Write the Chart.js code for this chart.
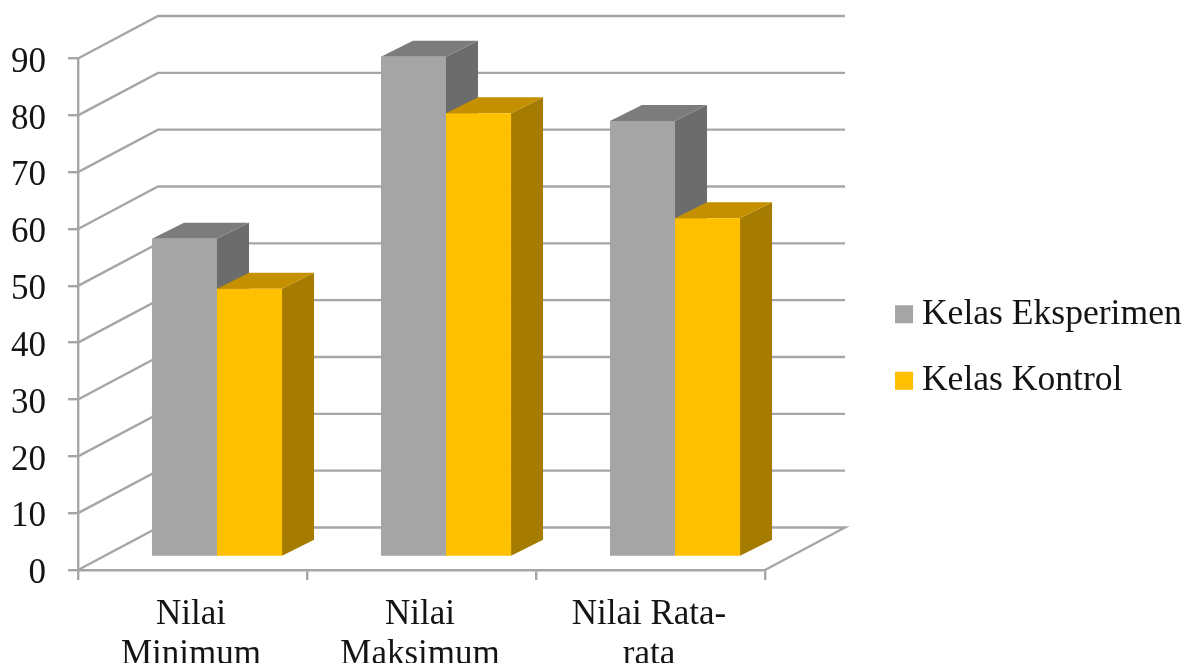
<!DOCTYPE html>
<html>
<head>
<meta charset="utf-8">
<title>Nilai Kelas Eksperimen dan Kelas Kontrol</title>
<script src="https://cdn.jsdelivr.net/npm/chart.js@4/dist/chart.umd.js"></script>
<style>
  html, body { margin: 0; padding: 0; background: #fff; }
  canvas { display: block; }
</style>
</head>
<body>
<canvas id="chart" width="1183" height="663"></canvas>
<script>
// Score categories and the two class series
const categories = [['Nilai', 'Minimum'], ['Nilai', 'Maksimum'], ['Nilai Rata-', 'rata']];
const kelasEksperimen = [56, 88, 76.7];
const kelasKontrol = [47.2, 78.1, 59.6];

const FONT = '"Liberation Serif", "Times New Roman", serif';
const LINE = '#a6a6a6';
const INK = '#141414';

// Offset of the back wall relative to the front plane of the box
const WALL = { dx: 80, dy: -42.5 };
// Offset of the bars from the front plane, and their extrusion depth
const BAR_SHIFT = { dx: 24.5, dy: -13 };
const BAR_DEPTH = { dx: 32, dy: -16 };

function poly(ctx, pts, fill) {
  ctx.beginPath();
  pts.forEach((p, i) => (i ? ctx.lineTo(p[0], p[1]) : ctx.moveTo(p[0], p[1])));
  ctx.closePath();
  ctx.fillStyle = fill;
  ctx.fill();
}

// Side wall, back wall and floor drawn from the value scale, then the bars'
// side and top faces; the library paints the front faces afterwards
const box3d = {
  id: 'box3d',
  beforeDatasetsDraw(chart) {
    const { ctx, chartArea: a, scales: { y } } = chart;
    ctx.save();
    ctx.strokeStyle = LINE;
    ctx.lineWidth = 2.4;
    ctx.lineJoin = 'miter';
    y.ticks.forEach(t => {
      const py = y.getPixelForValue(t.value);
      ctx.beginPath();
      ctx.moveTo(a.left, py);
      ctx.lineTo(a.left + WALL.dx, py + WALL.dy);
      ctx.lineTo(a.right + WALL.dx, py + WALL.dy);
      if (t.value === 0) ctx.lineTo(a.right, py);
      ctx.stroke();
    });
    ctx.translate(BAR_SHIFT.dx, BAR_SHIFT.dy);
    chart.data.datasets.forEach((ds, i) => {
      chart.getDatasetMeta(i).data.forEach(bar => {
        const { x, y: top, base, width } = bar.getProps(['x', 'y', 'base', 'width'], true);
        const l = x - width / 2, r = x + width / 2;
        const d = BAR_DEPTH;
        poly(ctx, [[r, top], [r + d.dx, top + d.dy], [r + d.dx, base + d.dy], [r, base]], ds.sideColor);
        poly(ctx, [[l, top], [l + d.dx, top + d.dy], [r + d.dx, top + d.dy], [r, top]], ds.topColor);
      });
    });
    ctx.restore();
  },
  beforeDatasetDraw(chart) {
    chart.ctx.save();
    chart.ctx.translate(BAR_SHIFT.dx, BAR_SHIFT.dy);
  },
  afterDatasetDraw(chart) {
    chart.ctx.restore();
  }
};

// Seats the legend to the right of the plot, inside the space reserved for it
const legendSeat = {
  id: 'legendSeat',
  afterLayout(chart) {
    const lg = chart.legend;
    lg.left = 904 - lg.options.labels.padding;
    lg.right = 1183;
    lg.top = 265.5;
    lg.bottom = 663;
  }
};

new Chart(document.getElementById('chart'), {
  type: 'bar',
  data: {
    labels: categories,
    datasets: [
      { label: 'Kelas Eksperimen', data: kelasEksperimen, backgroundColor: '#a5a5a5',
        sideColor: '#6c6c6c', topColor: '#7c7c7c', clip: false },
      { label: 'Kelas Kontrol', data: kelasKontrol, backgroundColor: '#ffc000',
        sideColor: '#a67c00', topColor: '#c49000', clip: false }
    ]
  },
  plugins: [box3d, legendSeat],
  options: {
    responsive: false,
    animation: false,
    devicePixelRatio: 1,
    layout: { padding: { top: 58.5, left: 0, right: 163, bottom: 0 } },
    datasets: { bar: { categoryPercentage: 0.568, barPercentage: 1, borderWidth: 0 } },
    plugins: {
      title: { display: false },
      tooltip: { enabled: false },
      legend: {
        position: 'right',
        align: 'start',
        labels: {
          usePointStyle: true,
          pointStyle: 'rect',
          boxWidth: 0.1,
          boxHeight: 18,
          padding: 30.9,
          color: INK,
          font: { family: FONT, size: 35.6 },
          sort: (a, b) => a.datasetIndex - b.datasetIndex
        }
      }
    },
    scales: {
      x: {
        afterFit: s => { s.height = 93; },
        grid: { drawOnChartArea: false, drawTicks: true, tickLength: 10, color: LINE, lineWidth: 2.4 },
        border: { color: LINE, width: 2.4 },
        ticks: {
          color: INK,
          padding: 15,
          labelOffset: -1.5,
          maxRotation: 0,
          autoSkip: false,
          font: { family: FONT, size: 35, lineHeight: 1.143 }
        }
      },
      y: {
        min: 0,
        max: 90,
        afterFit: s => { s.width = 78; },
        grid: { drawOnChartArea: false, drawTicks: true, tickLength: 10, color: LINE, lineWidth: 2.4 },
        border: { color: LINE, width: 2.4 },
        ticks: {
          stepSize: 10,
          color: INK,
          padding: 22,
          labelOffset: 4,
          font: { family: FONT, size: 35 }
        }
      }
    }
  }
});
</script>
</body>
</html>
